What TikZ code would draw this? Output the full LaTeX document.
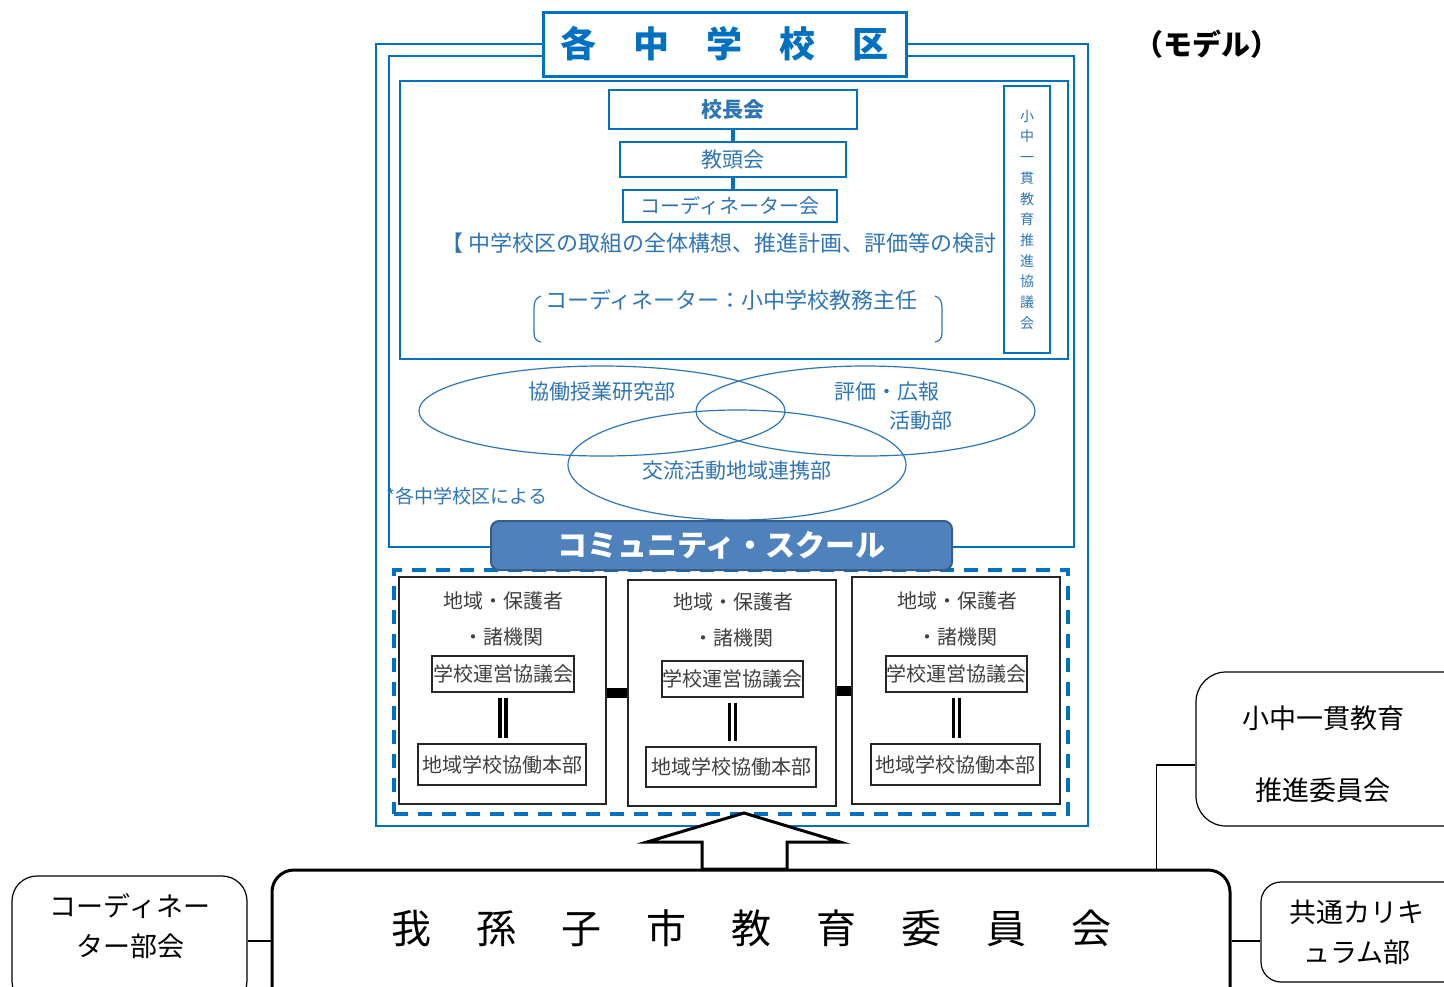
\documentclass[tikz,border=0pt]{standalone}
\usepackage{fontspec}
\setmainfont{Noto Sans CJK JP}
\usetikzlibrary{shapes.geometric}

\definecolor{frameblue}{RGB}{0,112,192}
\definecolor{textblue}{RGB}{46,117,182}
\definecolor{csfill}{RGB}{79,129,189}
\definecolor{csline}{RGB}{56,93,138}

\newcommand{\tsp}{\hspace{37pt}}
\newcommand{\isp}{\hspace{45pt}}

\tikzstyle{bluebox} = [rectangle, draw=frameblue, line width=1.5pt, fill=white,
		text=textblue, inner sep=0pt]
\tikzstyle{bluetext} = [text=textblue, inner sep=0pt, font=\fontsize{21}{24}\selectfont]
\tikzstyle{subellipse} = [ellipse, draw=textblue, line width=1.2pt, inner sep=0pt]
\tikzstyle{column} = [rectangle, draw=black!85, line width=1.2pt, fill=white, inner sep=0pt]
\tikzstyle{block} = [rectangle, draw=black!85, line width=1.2pt, text=black!75,
		inner sep=0pt, font=\fontsize{20}{24}\selectfont]
\tikzstyle{graytext} = [text=black!75, inner sep=0pt, align=center, font=\fontsize{20}{36}\selectfont]
\tikzstyle{roundbox} = [rectangle, rounded corners=25pt, draw, line width=1.2pt, inner sep=0pt]
\tikzstyle{bigtext} = [inner sep=0pt, align=center, font=\fontsize{27}{40}\selectfont]
\tikzstyle{line} = [draw, line width=1.3pt]
\tikzstyle{bar} = [draw=frameblue, line width=4pt]
\tikzstyle{dbl} = [draw, double, line width=3.3pt, double distance=2.8pt,
		shorten <=5pt, shorten >=5pt]

\begin{document}
\begin{tikzpicture}[x=1pt, y=-1pt]
		\useasboundingbox (0,0) rectangle (1444,986);
		%School district frames
		\node [rectangle, draw=frameblue, line width=2.5pt, minimum width=712pt, minimum height=782pt] (outer) at (732,435) {};
		\node [rectangle, draw=frameblue, line width=2.5pt, minimum width=685pt, minimum height=491pt] (inner) at (731.5,301.5) {};
		\node [bluebox, line width=3pt, text=frameblue, font=\fontsize{36}{40}\selectfont\bfseries, minimum width=363pt, minimum height=64pt] (title) at (724.5,44) {各\tsp 中\tsp 学\tsp 校\tsp 区};
		\node [font=\fontsize{29}{32}\selectfont\bfseries, inner sep=0pt] (model) at (1207,44) {（モデル）};
		
		%Council
		\node [rectangle, draw=frameblue, line width=1.2pt, minimum width=668pt, minimum height=278pt] (council) at (734,220) {};
		\node [bluebox, minimum width=248pt, minimum height=39pt, font=\fontsize{21}{24}\selectfont\bfseries] (kocho) at (733,109.5) {校長会};
		\node [bluebox, minimum width=226pt, minimum height=35pt, font=\fontsize{21}{24}\selectfont] (kyoto) at (733,159.5) {教頭会};
		\node [bluebox, minimum width=214pt, minimum height=32pt, font=\fontsize{20}{24}\selectfont] (coordi) at (730,206) {コーディネーター会};
		\draw [bar] (kocho.south) -- (kocho.south |- kyoto.north);
		\draw [bar] (kyoto.south) -- (kyoto.south |- coordi.north);
		\node [bluetext, font=\fontsize{22}{24}\selectfont] (kento) at (719,243) {【 中学校区の取組の全体構想、推進計画、評価等の検討};
		\node [bluetext, font=\fontsize{22}{24}\selectfont] (shunin) at (731.5,300) {コーディネーター：小中学校教務主任};
		\draw [textblue, line width=1.2pt] (541,296) .. controls (535,298) and (534,302) .. (534,310) -- (534,333) .. controls (534,338) and (536,341) .. (541,342);
		\draw [textblue, line width=1.2pt] (935,296) .. controls (941,298) and (942,302) .. (942,310) -- (942,333) .. controls (942,338) and (940,341) .. (935,342);
		\node [bluebox, minimum width=46pt, minimum height=267pt, align=center, font=\fontsize{14}{20.7}\selectfont] (ikkan) at (1027,219.5) {小\\中\\一\\貫\\教\\育\\推\\進\\協\\議\\会};
		
		%Sections
		\node [subellipse, minimum width=366pt, minimum height=90pt] (jugyo) at (602,411) {};
		\node [subellipse, minimum width=339pt, minimum height=90pt] (hyoka) at (865.5,411) {};
		\node [subellipse, minimum width=338pt, minimum height=110pt] (koryu) at (737,465) {};
		\node [bluetext] (jugyotxt) at (602,392) {協働授業研究部};
		\node [bluetext] (hyokatxt) at (887,392) {評価・広報};
		\node [bluetext] (katsudotxt) at (921,421) {活動部};
		\node [bluetext] (koryutxt) at (737,471) {交流活動地域連携部};
		\node [bluetext, font=\fontsize{19}{24}\selectfont] (note) at (467,496) {*各中学校区による};
		
		%Schools
		\node [rectangle, draw=frameblue, line width=4pt, dash pattern=on 14pt off 10pt, minimum width=674pt, minimum height=244pt] (cluster) at (731,692) {};
		\node [rectangle, rounded corners=8pt, draw=csline, line width=2pt, fill=csfill, text=white, font=\fontsize{30}{34}\selectfont\bfseries, minimum width=461pt, minimum height=49pt] (cs) at (721.5,545.5) {コミュニティ・スクール};
		
		\node [column, minimum width=207pt, minimum height=227pt] (col1) at (502.5,690.5) {};
		\node [column, minimum width=208pt, minimum height=226pt] (col2) at (732,693) {};
		\node [column, minimum width=208pt, minimum height=227pt] (col3) at (956,690.5) {};
		\draw [line width=10pt] (col2.west) -- (col2.west -| col1.east);
		\draw [line width=10pt] (col3.west) -- (col3.west -| col2.east);
		
		\node [graytext] (area1) at (503,619) {地域・保護者\\・諸機関};
		\node [block, minimum width=142pt, minimum height=36pt] (unei1) at (503,674) {学校運営協議会};
		\node [block, minimum width=168pt, minimum height=41pt] (honbu1) at (502,764.5) {地域学校協働本部};
		\draw [dbl] (unei1.south) -- (unei1.south |- honbu1.north);
		
		\node [graytext] (area2) at (733,620) {地域・保護者\\・諸機関};
		\node [block, minimum width=141pt, minimum height=36pt] (unei2) at (732.5,679) {学校運営協議会};
		\node [block, minimum width=170pt, minimum height=40pt] (honbu2) at (731,767) {地域学校協働本部};
		\draw [dbl] (unei2.south) -- (unei2.south |- honbu2.north);
		
		\node [graytext] (area3) at (957,619) {地域・保護者\\・諸機関};
		\node [block, minimum width=141pt, minimum height=36pt] (unei3) at (956.5,674) {学校運営協議会};
		\node [block, minimum width=169pt, minimum height=41pt] (honbu3) at (955.5,764.5) {地域学校協働本部};
		\draw [dbl] (unei3.south) -- (unei3.south |- honbu3.north);
		
		%Board of education
		\node [rectangle, rounded corners=22pt, draw, line width=3pt, minimum width=958pt, minimum height=142pt] (iinkai) at (751,941) {};
		\node [inner sep=0pt, font=\fontsize{40}{44}\selectfont] (iinkaitxt) at (751.5,928) {我\isp 孫\isp 子\isp 市\isp 教\isp 育\isp 委\isp 員\isp 会};
		\coordinate (tip) at (744,813);
		\draw [line width=3pt, fill=white, line join=miter] (tip) -- ++(96,29) -- ++(-53,0) -- ++(0,27) -- ++(-85,0) -- ++(0,-27) -- ++(-55,0) -- cycle;
		
		\node [roundbox, minimum width=235pt, minimum height=130pt] (coordbox) at (129.5,941) {};
		\node [bigtext] (coordtxt) at (130,926) {コーディネー\\ター部会};
		\draw [line] (coordbox) -- (iinkai);
		
		\node [roundbox, rounded corners=30pt, minimum width=280pt, minimum height=154pt] (suishin) at (1336,749) {};
		\node [bigtext, font=\fontsize{27}{72}\selectfont] (suishintxt) at (1323,754) {小中一貫教育\\推進委員会};
		\draw [line] ([yshift=-16pt]suishin.west) -| ([xshift=-75pt]iinkai.north east);
		
		\node [roundbox, rounded corners=20pt, minimum width=210pt, minimum height=100pt] (curri) at (1366,932) {};
		\node [bigtext] (curritxt) at (1357,932) {共通カリキ\\ュラム部};
		\draw [line] (iinkai.east) -- (iinkai.east -| curri.west);
		
\end{tikzpicture}
\end{document}
